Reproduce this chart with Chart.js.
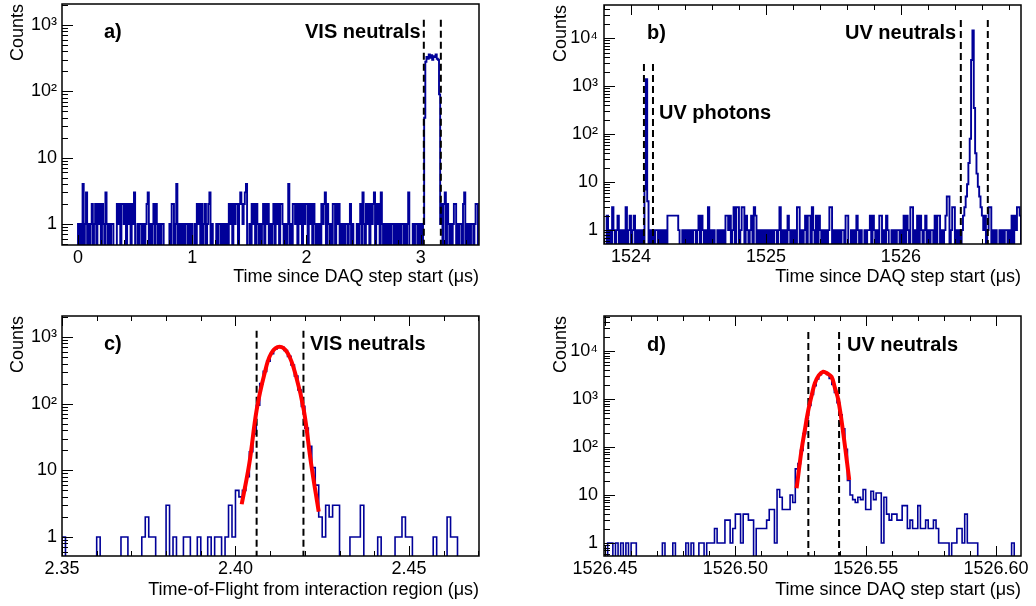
<!DOCTYPE html>
<html>
<head>
<meta charset="utf-8">
<script src="https://cdn.jsdelivr.net/npm/chart.js@4.4.1/dist/chart.umd.min.js"></script>
<style>
  html, body { margin: 0; padding: 0; background: #fff; }
  #wrap { position: relative; width: 1036px; height: 606px; }
  canvas { position: absolute; }
</style>
</head>
<body>
<div id="wrap">
  <canvas id="pa" width="518" height="303" style="left:0;top:0"></canvas>
  <canvas id="pb" width="518" height="303" style="left:518px;top:0"></canvas>
  <canvas id="pc" width="518" height="303" style="left:0;top:303px"></canvas>
  <canvas id="pd" width="518" height="303" style="left:518px;top:303px"></canvas>
</div>
<script>
// ---- data ----
// a) VIS, time since DAQ step start, 0.01 us bins from 0
const binStartA = 0, binWidthA = 0.01;
const countsA = [
  1,0,1,0,4,0,1,3,0,1, 0,1,2,0,1,2,0,2,1,2, 0,2,1,0,3,1,0,1,0,1, 1,0,0,0,2,1,2,0,2,2,
  1,2,0,2,1,2,0,2,1,3, 0,0,1,0,1,1,0,1,0,1, 2,3,0,1,0,1,2,0,2,1, 0,1,0,1,1,0,0,0,0,0,
  1,0,2,2,0,1,4,0,1,0, 1,0,1,0,1,1,0,1,0,1, 0,0,1,0,2,1,2,0,2,0, 1,2,0,1,2,3,0,1,0,0,
  0,1,0,1,1,0,1,0,1,0, 1,0,2,1,2,0,2,1,2,2, 0,2,3,2,1,2,3,4,0,0, 1,0,2,1,2,0,2,1,0,1,
  0,1,2,0,2,1,2,0,1,0, 1,2,0,2,1,2,0,2,2,1, 0,1,0,1,4,0,1,0,2,2, 1,2,0,2,1,2,0,2,1,2,
  2,0,2,1,2,0,2,1,0,1, 0,1,0,2,1,2,3,0,2,1, 0,1,0,2,2,0,2,1,2,0, 1,0,1,0,1,1,0,1,2,0,
  1,0,0,0,1,0,1,2,0,3, 1,0,2,1,2,0,2,1,2,3, 0,2,1,2,0,3,1,0,1,0, 1,0,1,0,1,1,0,1,0,1,
  0,1,0,1,1,0,1,0,1,3, 0,0,0,1,0,1,1,0,1,0, 1,0,1,40,280,330,310,360,320,350,
  300,340,330,360,310,300,90,1,2,0, 2,3,0,2,1,0,1,0,1,2, 2,0,1,0,1,1,0,2,3,0, 1,0,1,0,1,1,0,1,2,2
];
// b) UV, 0.01 us bins from 1523.82
const binStartB = 1523.82, binWidthB = 0.01;
const countsB = [
  2,0,1,0,3,1,0,1,2,0, 1,0,1,0,3,0,1,2,0,1, 2,0,1,0,1,0,1,0,7,1400, 4,0,1,0,1,0,1,1,0,1,
  0,1,0,1,0,2,2,2,2,2, 2,2,2,1,0,0,1,0,1,0, 1,0,1,0,1,1,0,1,2,0, 2,1,0,1,0,3,0,1,0,1,
  0,0,1,0,1,0,1,0,2,2, 1,2,0,1,3,0,3,3,0,1, 3,3,0,2,1,0,1,2,0,3, 2,0,1,0,1,0,1,0,1,0,
  1,0,1,0,1,1,0,1,3,0, 1,0,1,0,2,1,0,1,0,1, 0,3,3,0,1,0,1,2,0,2, 2,0,3,1,0,2,0,2,1,0,
  1,0,1,0,1,3,3,0,1,0, 1,0,1,0,1,1,0,2,2,0, 0,1,0,1,0,2,1,0,1,0, 0,1,0,1,1,2,0,2,1,0,
  1,0,2,2,0,1,0,2,1,0, 0,1,0,1,0,1,1,0,1,0, 2,0,2,1,0,3,3,0,1,0, 2,0,2,1,0,1,2,0,1,0,
  1,1,0,2,0,2,2,0,1,0, 1,2,5,5,0,1,3,3,0,1, 0,1,0,1,2,3,5,9,25,80,
  3500,14500,350,40,15,8,5,3,2,1, 2,0,1,3,3,0,1,0,1,0, 0,1,0,1,0,1,1,0,1,0, 2,0,2,1,3,3,2
];
// c) VIS time of flight, 1 ns bins from 2.35
const binStartC = 2.35, binWidthC = 0.001;
const countsC = [
  1,0,0,0,0,0,0,0,0,0, 1,0,0,0,0,0,0,1,1,0, 0,0,0,1,2,1,1,0,0,0, 3,0,1,0,0,1,1,0,0,1,
  0,0,1,0,1,1,0,1,3,1, 5,4,5,8,19,35,95,200,305,434, 561,662,713,700,627,512,381,259,160,91,
  43,23,11,6,2,1,3,2,3,3, 0,0,0,1,1,1,3,0,0,0, 0,1,0,0,0,0,1,1,2,1, 1,0,0,0,0,0,0,1,0,0,
  0,2,1,1,0,0,0,0,0,0
];
// d) UV, 1 ns bins from 1526.45
const binStartD = 1526.45, binWidthD = 0.001;
const countsD = [
  0,1,1,0,1,0,1,0,1,0, 1,1,0,0,0,0,0,0,0,0, 0,0,1,0,0,0,1,0,0,0, 0,1,0,1,0,0,1,1,0,1,
  1,1,2,1,1,1,3,3,1,2, 4,4,1,4,4,3,3,0,2,2, 2,2,3,5,5,1,13,9,5,5, 5,10,7,35,45,85,190,387,731,1242,
  1897,2606,3221,3581,3590,3258,2685,2009,1364,841, 471,239,90,20,10,8,7,9,8,13,
  5,5,12,8,11,11,1,9,4,3, 4,4,3,3,6,6,2,3,2,2, 6,2,2,3,2,2,3,2,1,1, 1,1,0,1,1,2,2,1,4,1,
  1,1,1,0,0,0,0,0,0,0, 0,0,0,0,0,0,1,0,0,0
];
// gaussian fit curves
const fitCX = [2.4018, 2.4040, 2.4061, 2.4084, 2.4103, 2.4127, 2.4151, 2.4175, 2.4197, 2.4218, 2.4240];
const fitCY = [3.1, 12.7, 80, 285, 568, 715, 568, 253, 80, 12.7, 2.4];
const fitDX = [1526.5235, 1526.5254, 1526.5268, 1526.5280, 1526.5293, 1526.5305, 1526.5320, 1526.5337,
               1526.5353, 1526.5369, 1526.5382, 1526.5395, 1526.5414, 1526.5437];
const fitDY = [13.8, 87, 250, 590, 1200, 2130, 3100, 3700, 3400, 2900, 1700, 950, 194, 20.5];
// selection cuts (dashed lines) and their top value
const cutsA = [3.027, 3.176], cutTopA = 1265;
const cutsBPhot = [1524.096, 1524.163], cutTopBPhot = 2970;
const cutsBNeut = [1526.444, 1526.644], cutTopBNeut = 25700;
const cutsC = [2.4061, 2.4196], cutTopC = 1365;
const cutsD = [1526.528, 1526.5398], cutTopD = 27500;
// axis ticks
const xTicksA = [0, 1, 2, 3];
const xTicksB = [1524, 1525, 1526];
const xTicksC = [2.35, 2.40, 2.45];
const xTicksD = [1526.45, 1526.50, 1526.55, 1526.60];
const yTicks3 = [1, 10, 100, 1000];
const yTicks4 = [1, 10, 100, 1000, 10000];

const FONT = '"Liberation Sans", Arial, Helvetica, sans-serif';
Chart.defaults.font.family = FONT;
Chart.defaults.font.size = 18;
Chart.defaults.color = '#000';

const SUP = '⁰¹²³⁴⁵⁶⁷⁸⁹';
function logLabel(v) {
  const e = Math.round(Math.log10(v));
  if (e === 0) return '1';
  if (e === 1) return '10';
  return '10' + SUP[e];
}

function histPoints(counts, start, width, floor) {
  const pts = [{ x: start, y: floor }];
  counts.forEach((c, i) => pts.push({ x: start + i * width, y: c > 0 ? c : floor }));
  pts.push({ x: start + counts.length * width, y: floor });
  return pts;
}

// ROOT-like frame, inward ticks and bold annotations
const rootFrame = {
  id: 'rootFrame',
  afterDatasetsDraw(chart, args, o) {
    const { ctx, chartArea: a, scales: { x, y } } = chart;
    ctx.save();
    ctx.strokeStyle = '#000';
    ctx.lineWidth = 1;
    ctx.beginPath();
    const xt = (v, len) => {
      const px = Math.round(x.getPixelForValue(v)) + 0.5;
      ctx.moveTo(px, a.bottom); ctx.lineTo(px, a.bottom - len);
      if (o.topTicks) { ctx.moveTo(px, a.top); ctx.lineTo(px, a.top + len); }
    };
    o.xMajor.forEach(v => xt(v, 10));
    const k0 = Math.ceil(x.min / o.xMinor - 1e-6), k1 = Math.floor(x.max / o.xMinor + 1e-6);
    for (let k = k0; k <= k1; k++) xt(k * o.xMinor, 5);
    const e0 = Math.floor(Math.log10(y.min)), e1 = Math.ceil(Math.log10(y.max));
    for (let e = e0; e <= e1; e++) {
      for (let m = 1; m <= 9; m++) {
        const v = m * Math.pow(10, e);
        if (v < y.min || v > y.max) continue;
        const py = Math.round(y.getPixelForValue(v)) + 0.5;
        ctx.moveTo(a.left, py); ctx.lineTo(a.left + (m === 1 ? 11 : 6), py);
      }
    }
    ctx.stroke();
    ctx.lineWidth = 1.5;
    ctx.strokeRect(a.left, a.top, a.right - a.left, a.bottom - a.top);
    ctx.fillStyle = '#000';
    ctx.font = 'bold 20px ' + FONT;
    ctx.textBaseline = 'alphabetic';
    o.notes.forEach(n => ctx.fillText(n.text, n.x, n.y));
    ctx.restore();
  }
};

function makePanel(id, p) {
  const floor = p.yMin * 0.3;
  const datasets = [];
  if (p.fitX) {
    datasets.push({
      data: p.fitX.map((v, i) => ({ x: v, y: p.fitY[i] })),
      borderColor: '#ff0000', borderWidth: 4, tension: 0.4,
      pointRadius: 0, order: 0, clip: 0
    });
  }
  p.cuts.forEach(c => {
    c.xs.forEach(v => datasets.push({
      data: [{ x: v, y: floor }, { x: v, y: c.top }],
      borderColor: '#000', borderWidth: 2, borderDash: [7, 4],
      pointRadius: 0, order: 1, clip: 0
    }));
  });
  datasets.push({
    data: histPoints(p.counts, p.start, p.width, floor),
    borderColor: '#000099', borderWidth: p.lineW, stepped: 'before',
    pointRadius: 0, order: 2, clip: 0
  });

  return new Chart(document.getElementById(id), {
    type: 'line',
    data: { datasets },
    options: {
      responsive: false,
      animation: false,
      devicePixelRatio: 1,
      layout: { padding: { left: 0, top: p.area.t, right: 518 - p.area.r, bottom: 0 } },
      plugins: {
        legend: { display: false },
        tooltip: { enabled: false },
        rootFrame: { xMajor: p.xTicks, xMinor: p.xMinor, topTicks: p.topTicks, notes: p.notes }
      },
      scales: {
        x: {
          type: 'linear', min: p.xMin, max: p.xMax, bounds: 'data',
          grid: { display: false, drawTicks: false },
          border: { display: false },
          ticks: {
            padding: 2, autoSkip: false, maxRotation: 0, minRotation: 0,
            callback: v => v.toFixed(p.dec)
          },
          title: { display: true, text: p.xTitle, align: 'end', padding: { top: 0, bottom: p.xTitlePad } },
          afterBuildTicks: s => { s.ticks = p.xTicks.map(v => ({ value: v })); },
          afterFit: s => { s.height = 303 - p.area.b; s.paddingLeft = 0; s.paddingRight = 0; }
        },
        y: {
          type: 'logarithmic', min: p.yMin, max: p.yMax, bounds: 'data',
          grid: { display: false, drawTicks: false },
          border: { display: false },
          ticks: { padding: p.yPad, autoSkip: false, callback: v => logLabel(v) },
          title: { display: true, text: 'Counts', align: 'end', padding: { top: p.yTitlePad, bottom: 0 } },
          afterBuildTicks: s => { s.ticks = p.yTicks.map(v => ({ value: v })); },
          afterFit: s => { s.width = p.area.l; s.paddingTop = 0; s.paddingBottom = 0; }
        }
      }
    },
    plugins: [rootFrame]
  });
}

makePanel('pa', {
  counts: countsA, start: binStartA, width: binWidthA, lineW: 1.9,
  xMin: -0.14, xMax: 3.51, xTicks: xTicksA, xMinor: 0.2, dec: 0,
  yMin: 0.482, yMax: 2075, yTicks: yTicks3,
  area: { l: 62, r: 479, t: 4, b: 245 }, topTicks: false,
  cuts: [{ xs: cutsA, top: cutTopA }],
  xTitle: 'Time since DAQ step start (\u03bcs)', xTitlePad: 15, yTitlePad: 7, yPad: 5,
  notes: [{ text: 'a)', x: 104, y: 38 }, { text: 'VIS neutrals', x: 305, y: 38 }]
});
makePanel('pb', {
  counts: countsB, start: binStartB, width: binWidthB, lineW: 1.9,
  xMin: 1523.8, xMax: 1526.89, xTicks: xTicksB, xMinor: 0.2, dec: 0,
  yMin: 0.513, yMax: 48978, yTicks: yTicks4,
  area: { l: 86, r: 503, t: 5, b: 244 }, topTicks: true,
  cuts: [{ xs: cutsBPhot, top: cutTopBPhot }, { xs: cutsBNeut, top: cutTopBNeut }],
  xTitle: 'Time since DAQ step start (\u03bcs)', xTitlePad: 15, yTitlePad: 32, yPad: 6,
  notes: [{ text: 'b)', x: 129, y: 39 }, { text: 'UV neutrals', x: 327, y: 39 },
          { text: 'UV photons', x: 141, y: 119 }]
});
makePanel('pc', {
  counts: countsC, start: binStartC, width: binWidthC, lineW: 1.6,
  xMin: 2.35, xMax: 2.4702, xTicks: xTicksC, xMinor: 0.01, dec: 2,
  yMin: 0.519, yMax: 2065, yTicks: yTicks3,
  area: { l: 62, r: 479, t: 13, b: 253 }, topTicks: true,
  cuts: [{ xs: cutsC, top: cutTopC }], fitX: fitCX, fitY: fitCY,
  xTitle: 'Time-of-Flight from interaction region (\u03bcs)', xTitlePad: 5, yTitlePad: 7, yPad: 5,
  notes: [{ text: 'c)', x: 104, y: 47 }, { text: 'VIS neutrals', x: 310, y: 47 }]
});
makePanel('pd', {
  counts: countsD, start: binStartD, width: binWidthD, lineW: 1.6,
  xMin: 1526.4496, xMax: 1526.6096, xTicks: xTicksD, xMinor: 0.01, dec: 2,
  yMin: 0.536, yMax: 53580, yTicks: yTicks4,
  area: { l: 86, r: 503, t: 13, b: 253 }, topTicks: true,
  cuts: [{ xs: cutsD, top: cutTopD }], fitX: fitDX, fitY: fitDY,
  xTitle: 'Time since DAQ step start (\u03bcs)', xTitlePad: 5, yTitlePad: 32, yPad: 6,
  notes: [{ text: 'd)', x: 129, y: 48 }, { text: 'UV neutrals', x: 329, y: 48 }]
});
</script>
</body>
</html>
